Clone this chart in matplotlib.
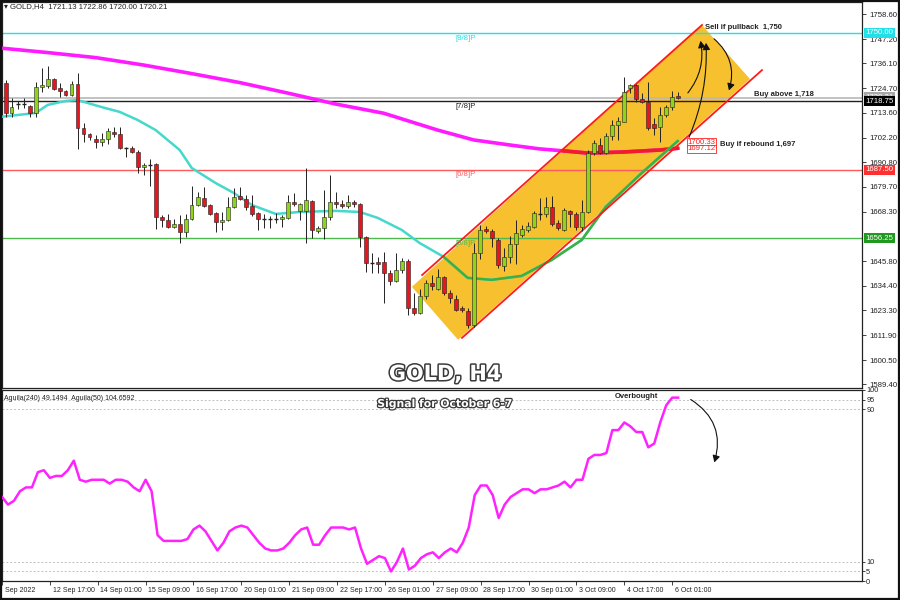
import matplotlib
matplotlib.use('Agg')
import matplotlib.pyplot as plt
import matplotlib.patheffects as pe
from matplotlib.patches import FancyArrowPatch, Polygon, Rectangle

# ---------------- data ----------------
ohlc = [
    (1727.1, 1728.5, 1711.6, 1713.4), (1713.4, 1720.3, 1711.6, 1716.1), (1717.5, 1718.9, 1715.2, 1717.3),
    (1717.4, 1720.3, 1715.7, 1717.6), (1716.6, 1717.1, 1711.6, 1713.4), (1713.4, 1727.6, 1711.6, 1725.3),
    (1725.3, 1734.0, 1723.0, 1726.2), (1725.7, 1734.9, 1724.8, 1728.9), (1728.9, 1729.4, 1723.9, 1724.4),
    (1724.8, 1727.1, 1720.7, 1723.4), (1723.4, 1723.9, 1721.2, 1721.6), (1721.6, 1728.0, 1721.2, 1726.6),
    (1726.6, 1731.7, 1697.0, 1706.6), (1706.6, 1708.8, 1700.2, 1703.8), (1703.8, 1704.3, 1701.1, 1702.4),
    (1701.5, 1703.4, 1697.4, 1700.2), (1700.2, 1704.3, 1698.3, 1701.5), (1701.5, 1706.6, 1699.3, 1705.2),
    (1704.7, 1707.0, 1702.4, 1703.8), (1703.8, 1707.0, 1697.0, 1697.4), (1697.4, 1697.9, 1693.3, 1697.2),
    (1697.4, 1698.3, 1695.1, 1695.6), (1695.6, 1696.5, 1686.0, 1688.7), (1688.7, 1690.6, 1685.1, 1689.7),
    (1689.7, 1692.4, 1680.1, 1689.4), (1690.1, 1690.6, 1660.4, 1665.9), (1665.9, 1666.8, 1661.4, 1664.5),
    (1664.5, 1667.3, 1660.9, 1661.4), (1661.4, 1665.0, 1660.9, 1662.7), (1662.7, 1666.8, 1654.0, 1659.1),
    (1659.1, 1667.3, 1656.8, 1665.0), (1665.0, 1680.1, 1664.5, 1671.4), (1671.4, 1677.3, 1670.9, 1675.0),
    (1674.6, 1679.6, 1670.5, 1670.9), (1671.4, 1671.9, 1666.8, 1667.3), (1667.7, 1668.2, 1659.1, 1663.6),
    (1663.6, 1668.2, 1660.0, 1664.5), (1664.5, 1675.0, 1664.1, 1670.5), (1670.5, 1679.2, 1670.0, 1675.0),
    (1675.5, 1679.6, 1673.7, 1674.1), (1674.1, 1676.0, 1669.1, 1670.5), (1670.9, 1676.0, 1666.4, 1667.3),
    (1667.7, 1668.2, 1660.0, 1665.0), (1665.0, 1667.3, 1660.9, 1665.2), (1665.0, 1666.4, 1660.9, 1664.8),
    (1665.0, 1667.7, 1663.2, 1665.2), (1665.0, 1666.8, 1661.4, 1665.9), (1665.5, 1676.0, 1665.0, 1672.8),
    (1672.8, 1676.9, 1670.9, 1671.9), (1668.7, 1672.3, 1664.5, 1671.9), (1668.7, 1688.3, 1654.0, 1673.7),
    (1673.2, 1673.7, 1656.3, 1660.0), (1659.5, 1661.8, 1658.6, 1660.9), (1660.9, 1678.2, 1655.9, 1665.9),
    (1665.9, 1685.1, 1664.5, 1672.8), (1672.8, 1677.3, 1670.0, 1671.9), (1671.9, 1673.7, 1670.0, 1670.9),
    (1670.9, 1676.0, 1670.0, 1672.8), (1672.8, 1673.7, 1670.5, 1671.9), (1671.9, 1672.3, 1652.2, 1656.8),
    (1656.8, 1657.2, 1640.8, 1644.9), (1644.9, 1649.5, 1640.3, 1644.7), (1645.4, 1647.7, 1640.3, 1644.5),
    (1645.4, 1649.9, 1626.7, 1640.3), (1640.3, 1641.7, 1634.9, 1636.7), (1636.7, 1649.5, 1636.2, 1641.7),
    (1641.7, 1647.2, 1640.3, 1645.8), (1645.8, 1646.7, 1621.2, 1624.4), (1624.4, 1631.2, 1621.2, 1622.1),
    (1622.1, 1633.0, 1621.6, 1629.8), (1629.8, 1637.2, 1628.5, 1635.8), (1635.8, 1639.4, 1632.6, 1634.4),
    (1633.0, 1642.2, 1632.6, 1638.5), (1638.5, 1639.0, 1630.3, 1631.2), (1631.2, 1632.6, 1626.7, 1628.9),
    (1628.5, 1630.3, 1623.0, 1623.5), (1624.4, 1625.3, 1622.6, 1623.5), (1623.0, 1624.4, 1615.2, 1616.6),
    (1616.6, 1654.0, 1615.7, 1649.5), (1649.5, 1662.3, 1646.7, 1660.0), (1660.4, 1661.8, 1658.6, 1659.5),
    (1659.5, 1660.4, 1652.2, 1656.3), (1655.4, 1656.3, 1642.6, 1644.0), (1643.5, 1651.8, 1641.3, 1647.7),
    (1647.7, 1657.2, 1644.9, 1653.6), (1653.6, 1664.5, 1644.5, 1658.6), (1657.7, 1662.3, 1656.8, 1660.4),
    (1660.0, 1663.6, 1659.1, 1661.8), (1661.4, 1668.7, 1660.9, 1667.7), (1667.3, 1674.6, 1664.5, 1667.7),
    (1667.3, 1675.0, 1665.9, 1670.5), (1670.5, 1675.5, 1661.8, 1662.7), (1663.2, 1664.5, 1660.0, 1660.9),
    (1660.0, 1670.0, 1659.5, 1669.1), (1668.7, 1669.1, 1661.4, 1667.3), (1667.3, 1668.2, 1660.0, 1661.4),
    (1661.4, 1673.7, 1659.5, 1668.2), (1668.2, 1696.5, 1667.7, 1695.1), (1695.1, 1701.1, 1694.2, 1699.7),
    (1698.8, 1702.0, 1694.7, 1695.1), (1695.1, 1704.3, 1694.7, 1702.9), (1702.9, 1710.2, 1701.1, 1707.9),
    (1707.9, 1711.6, 1701.1, 1709.8), (1709.3, 1729.8, 1709.3, 1723.0), (1724.8, 1726.6, 1722.5, 1726.2),
    (1726.2, 1726.6, 1718.4, 1719.8), (1719.8, 1722.5, 1718.0, 1718.4), (1718.4, 1727.6, 1705.6, 1706.6),
    (1708.4, 1711.1, 1703.4, 1706.6), (1707.0, 1716.1, 1700.2, 1712.5), (1712.5, 1717.1, 1711.6, 1716.1),
    (1716.1, 1723.4, 1714.8, 1720.7), (1721.13, 1722.86, 1720.00, 1720.21),
]
opens = [c[0] for c in ohlc]
highs = [c[1] for c in ohlc]
lows = [c[2] for c in ohlc]
closes = [c[3] for c in ohlc]
bars = list(range(1, len(ohlc) + 1))

# slow MA (magenta, red-highlighted at the end)
slow_x = [0, 8, 16, 24, 32, 40, 48, 56, 64, 73, 79, 85, 90, 94, 98, 104, 110, 113]
slow_y = [1743.1, 1741.0, 1738.7, 1735.3, 1731.4, 1727.3, 1722.5, 1717.5, 1713.3, 1705.6,
          1701.1, 1698.8, 1697.0, 1696.1, 1695.1, 1695.6, 1696.5, 1697.3]
slow_red_from = 94
# fast MA (turquoise, green-highlighted in the channel)
fast_x = [0, 6, 8, 11, 13, 17, 20, 23, 26, 30, 32, 36, 39, 42, 46, 50, 56, 60, 63, 67, 70, 74,
          78, 82, 87, 92, 97, 101, 107, 113]
fast_y = [1711.6, 1713.4, 1717.1, 1718.9, 1719.3, 1716.1, 1713.9, 1710.2, 1705.6, 1696.5, 1688.3,
          1681.4, 1676.9, 1671.4, 1667.3, 1668.2, 1668.7, 1668.2, 1665.5, 1660.0, 1654.0, 1647.7,
          1638.1, 1637.2, 1639.0, 1646.3, 1655.4, 1670.5, 1686.0, 1700.6]
fast_green_from = 74

# Murrey levels
levels = [1750.00, 1718.75, 1687.50, 1656.25]
level_names = ['[8/8]P', '[7/8]P', '[6/8]P', '[5/8]P']
level_colors = ['#22e0e8', '#202020', '#ff5a5a', '#4cbb4c']
level_box = ['#22e0e8', '#000000', '#ff3030', '#1f9a1f']
bid = 1720.21

# price axis labels
price_ticks = [1758.60, 1747.20, 1736.10, 1724.70, 1713.60, 1702.20, 1690.80, 1679.70,
               1668.30, 1645.80, 1634.40, 1623.30, 1611.90, 1600.50, 1589.40]

# oscillator (Aguila)
osc = [44, 40, 42, 47, 49, 49, 57, 58, 54, 55, 55, 58, 63, 53, 52, 53, 53, 53, 51, 53,
       53, 52, 49, 47, 53, 47, 24, 21, 21, 21, 21, 22, 27, 29, 26, 21, 16, 20, 26, 28,
       29, 28, 24, 20, 17, 16, 16, 17, 20, 24, 27, 28, 19, 19, 24, 28, 28, 28, 27, 28,
       17, 9, 11, 13, 12, 5, 10, 17, 6, 8, 12, 14, 15, 12, 15, 17, 15, 20, 28, 45,
       50, 50, 45, 33, 40, 44, 46, 48, 48, 46, 48, 48, 49, 50, 52, 49, 53, 53, 64, 66,
       66, 67, 79, 79, 83, 81, 78, 78, 70, 72, 83, 92, 96, 96]
osc_levels = [95, 90, 10, 5]
osc_ticks = [100, 95, 90, 10, 5, 0]

xtick_pos = [0, 8, 16, 24, 32, 40, 48, 56, 64, 72, 80, 88, 96, 104, 112]
xtick_lab = ['Sep 2022', '12 Sep 17:00', '14 Sep 01:00', '15 Sep 09:00', '16 Sep 17:00',
             '20 Sep 01:00', '21 Sep 09:00', '22 Sep 17:00', '26 Sep 01:00', '27 Sep 09:00',
             '28 Sep 17:00', '30 Sep 01:00', '3 Oct 09:00', '4 Oct 17:00', '6 Oct 01:00']

# channel drawing (bar index, price)
chan_upper = [(70.4, 1639.4), (117.05, 1753.6)]
chan_lower = [(77.05, 1610.7), (127.05, 1733.0)]
chan_fill = [(68.7, 1634.0), (117.05, 1753.6), (125.05, 1728.9), (76.4, 1609.8)]

# ---------------- figure ----------------
FONT = ['Liberation Sans', 'DejaVu Sans']
plt.rcParams['font.family'] = FONT
W, H = 900, 600
fig = plt.figure(figsize=(9, 6), dpi=100)
fig.patch.set_facecolor('white')

def fx(px):
    return px / W

def fy(py):
    return 1 - py / H

XL = (2.3 / 6, 862.3 / 6)
ax = fig.add_axes([fx(2), fy(388), fx(862) - fx(2), fy(2) - fy(388)])
ax2 = fig.add_axes([fx(2), fy(581), fx(862) - fx(2), fy(390) - fy(581)])
for a in (ax, ax2):
    a.set_xlim(*XL)
    for s in a.spines.values():
        s.set_color('#222222')
        s.set_linewidth(0.9)
ax.set_ylim(1587.8, 1764.1)
ax2.set_ylim(0, 100)
ax.set_xticks([])

LAB = 5.6
# right price axis
ax.yaxis.tick_right()
ax.set_yticks(price_ticks)
ax.set_yticklabels([f'{v:.2f}' for v in price_ticks])
ax.tick_params(axis='y', labelsize=LAB, length=3, width=0.6, pad=2, colors='#222222')

# channel
ax.add_patch(Polygon(chan_fill, closed=True, facecolor='#f6c02e', edgecolor='none', zorder=1))
ax.plot([p[0] for p in chan_upper], [p[1] for p in chan_upper], color='#ff1a1a', lw=1.3, zorder=5)
ax.plot([p[0] for p in chan_lower], [p[1] for p in chan_lower], color='#ff1a1a', lw=1.3, zorder=5)

# level lines
yax_tr = ax.get_yaxis_transform()
ax.axhline(bid, color='#b8b8b8', lw=1.2, zorder=2)
for lv, nm, col, bc in zip(levels, level_names, level_colors, level_box):
    ax.axhline(lv, color=col, lw=1.0, zorder=2)
    ax.text(77.7, lv - 0.8, nm, color=col, fontsize=LAB, ha='center', va='top', zorder=6)

# MAs
ax.plot(slow_x, slow_y, color='#ff1aff', lw=2.6, zorder=3, solid_capstyle='round')
si = slow_x.index(slow_red_from)
ax.plot(slow_x[si:], slow_y[si:], color='#f01c2c', lw=2.6, zorder=3)
ax.plot(fast_x, fast_y, color='#45d8cc', lw=1.8, zorder=3)
gi = fast_x.index(fast_green_from)
ax.plot(fast_x[gi:], fast_y[gi:], color='#3cb043', lw=1.8, zorder=3)

# candles
for x, o, h, l, c in zip(bars, opens, highs, lows, closes):
    ax.vlines(x, l, h, color='#222222', lw=0.7, zorder=6)
    col = '#8fd41a' if c >= o else '#e8141e'
    if abs(c - o) < 0.5:
        ax.hlines((o + c) / 2, x - 0.32, x + 0.32, color='#222222', lw=1.0, zorder=7)
    else:
        ax.bar(x, c - o, bottom=o, width=0.6, color=col, edgecolor='#222222', lw=0.4, zorder=7)

# right side boxed labels
ax.text(1.004, bid + 0.4, f'{bid:.2f}', transform=yax_tr, fontsize=LAB, color='white', va='center', ha='left',
        bbox=dict(boxstyle='square,pad=0.2', fc='#a8a8a8', ec='none'), zorder=9, clip_on=False)
for lv, bc in zip(levels, level_box):
    ax.text(1.004, lv, f'{lv:.2f}', transform=yax_tr, fontsize=LAB, color='white', va='center', ha='left',
            bbox=dict(boxstyle='square,pad=0.2', fc=bc, ec='none'), zorder=10, clip_on=False)

# annotations
ax.text(114.6, 1699.9, '1700.33', color='#ff2020', fontsize=LAB, va='center', ha='left', zorder=11,
        bbox=dict(boxstyle='square,pad=0.1', fc='white', ec='#ff2020', lw=0.6))
ax.text(114.6, 1697.0, '1697.12', color='#ff2020', fontsize=LAB, va='center', ha='left', zorder=11,
        bbox=dict(boxstyle='square,pad=0.1', fc='white', ec='#ff2020', lw=0.6))
BW = 5.5
ax.text(117.6, 1752.3, 'Sell if pullback  1,750', fontsize=BW, fontweight='bold', color='#222222',
        va='center', ha='left', zorder=11)
ax.text(125.7, 1722.0, 'Buy above 1,718', fontsize=BW, fontweight='bold', color='#222222',
        va='center', ha='left', zorder=11)
ax.text(120.0, 1698.8, 'Buy if rebound 1,697', fontsize=BW, fontweight='bold', color='#222222',
        va='center', ha='left', zorder=11)

arrow_kw = dict(arrowstyle='-|>,head_length=4,head_width=2.2', color='#111111', lw=0.8,
                mutation_scale=1, zorder=12)
ax.add_patch(FancyArrowPatch((114.4, 1721.6), (116.7, 1747.6), connectionstyle='arc3,rad=0.25', **arrow_kw))
ax.add_patch(FancyArrowPatch((114.7, 1701.1), (117.7, 1746.7), connectionstyle='arc3,rad=0.12', **arrow_kw))
ax.add_patch(FancyArrowPatch((118.7, 1748.1), (121.4, 1722.5), connectionstyle='arc3,rad=-0.35', **arrow_kw))

# title texts
stroke = [pe.withStroke(linewidth=2.2, foreground='#3a3a3a')]
fig.text(fx(445), fy(374), 'GOLD, H4', fontsize=15, fontweight='bold', color='white', family='DejaVu Sans',
         ha='center', va='center', path_effects=stroke, zorder=20)
fig.text(fx(445), fy(404), 'Signal for October 6-7', fontsize=7.8, fontweight='bold', color='white',
         family='DejaVu Sans', ha='center', va='center',
         path_effects=[pe.withStroke(linewidth=1.8, foreground='#3a3a3a')], zorder=20)

# header
fig.text(fx(4), fy(7), '\u25be GOLD,H4  1721.13 1722.86 1720.00 1720.21', fontsize=LAB, color='#222222',
         ha='left', va='center')

# ---------------- oscillator panel ----------------
for lv in osc_levels:
    ax2.axhline(lv, color='#c0c0c0', lw=0.7, ls=(0, (2, 2)), zorder=1)
ax2.plot(list(range(len(osc))), osc, color='#ff22ff', lw=1.8, zorder=3)
ax2.yaxis.tick_right()
ax2.set_yticks(osc_ticks)
ax2.set_yticklabels([str(v) for v in osc_ticks])
ax2.tick_params(axis='y', labelsize=5.3, length=2, width=0.6, pad=1, colors='#222222')
ax2.set_xticks(xtick_pos)
ax2.set_xticklabels([])
ax2.tick_params(axis='x', length=3, width=0.6, colors='#222222', direction='out')
xax_tr = ax2.get_xaxis_transform()
for p, lab in zip(xtick_pos, xtick_lab):
    ax2.text(p + 0.45, -0.048, lab, transform=xax_tr, fontsize=5.0, color='#222222',
             ha='left', va='center', clip_on=False)
ax2.text(0.002, 0.955, 'Aguila(240) 49.1494  Aguila(50) 104.6592', transform=ax2.transAxes,
         fontsize=5.0, color='#222222', ha='left', va='center')
ax2.text(106, 96.5, 'Overbought', fontsize=BW, fontweight='bold', color='#222222', ha='center', va='center')
ax2.add_patch(FancyArrowPatch((114.7, 95.8), (118.9, 60.7), connectionstyle='arc3,rad=-0.4', **arrow_kw))

# outer frame
fig.patches.append(Rectangle((0.001, 0.001), 0.998, 0.997, transform=fig.transFigure, fill=False,
                             ec='#111111', lw=1.6))

fig.savefig('out.png', dpi=100)
